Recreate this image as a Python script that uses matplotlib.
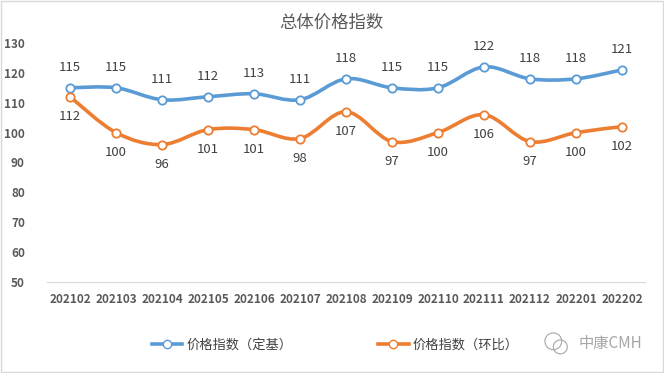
import numpy as np
import matplotlib.pyplot as plt
from matplotlib.path import Path
from matplotlib.patches import PathPatch, Rectangle
from matplotlib.lines import Line2D

plt.rcParams['font.family'] = ['Noto Sans CJK SC', 'DejaVu Sans']

months = ['202102', '202103', '202104', '202105', '202106', '202107', '202108',
          '202109', '202110', '202111', '202112', '202201', '202202']
fixed_base = [115, 115, 111, 112, 113, 111, 118, 115, 115, 122, 118, 118, 121]
month_on_month = [112, 100, 96, 101, 101, 98, 107, 97, 100, 106, 97, 100, 102]

blue = '#5B9BD5'
orange = '#ED7D31'


def smooth_path(xs, ys):
    # Excel-style smoothed line: cubic bezier through the points
    xs = np.asarray(xs, float)
    ys = np.asarray(ys, float)
    n = len(xs)
    verts = [(xs[0], ys[0])]
    codes = [Path.MOVETO]
    for i in range(n - 1):
        p0 = (xs[max(i - 1, 0)], ys[max(i - 1, 0)])
        p1 = (xs[i], ys[i])
        p2 = (xs[i + 1], ys[i + 1])
        p3 = (xs[min(i + 2, n - 1)], ys[min(i + 2, n - 1)])
        c1 = (p1[0] + (p2[0] - p0[0]) / 6, p1[1] + (p2[1] - p0[1]) / 6)
        c2 = (p2[0] - (p3[0] - p1[0]) / 6, p2[1] - (p3[1] - p1[1]) / 6)
        verts += [c1, c2, p2]
        codes += [Path.CURVE4] * 3
    return Path(verts, codes)


fig = plt.figure(figsize=(6.64, 3.73), dpi=100)
fig.patches.append(Rectangle((0.001, 0.002), 0.997, 0.995, transform=fig.transFigure,
                             fill=False, edgecolor='#D9D9D9', linewidth=1))
ax = fig.add_axes([0.0708, 0.244, 0.9006, 0.6408])

x = np.arange(len(months))
for vals, col, off in [(fixed_base, blue, 20), (month_on_month, orange, -20)]:
    ax.add_patch(PathPatch(smooth_path(x, vals), facecolor='none', edgecolor=col,
                           linewidth=2.6, capstyle='round', zorder=2))
    ax.plot(x, vals, linestyle='none', marker='o', markersize=6, markerfacecolor='white',
            markeredgecolor=col, markeredgewidth=1.3, zorder=3)
    for xi, v in zip(x, vals):
        ax.annotate(str(v), (xi, v), xytext=(0, off), textcoords='offset pixels',
                    ha='center', va='center', fontsize=9.5, color='#404040')

ax.set_xlim(-0.5, len(months) - 0.5)
ax.set_ylim(50, 130)
ax.set_yticks(range(50, 131, 10))
ax.set_xticks(x)
ax.set_xticklabels(months)
for s in ['top', 'right', 'left']:
    ax.spines[s].set_visible(False)
ax.spines['bottom'].set_color('#D9D9D9')
ax.tick_params(axis='both', length=0, colors='#595959', labelsize=8.5)
ax.tick_params(axis='y', pad=16)
ax.tick_params(axis='x', pad=8)
for lab in ax.get_xticklabels() + ax.get_yticklabels():
    lab.set_fontweight('bold')

fig.text(0.499, 0.94, '总体价格指数', ha='center', va='center', fontsize=12.5,
         color='#595959', fontweight='medium')

handles = [Line2D([], [], color=blue, linewidth=2.6, marker='o', markersize=6,
                  markerfacecolor='white', markeredgecolor=blue),
           Line2D([], [], color=orange, linewidth=2.6, marker='o', markersize=6,
                  markerfacecolor='white', markeredgecolor=orange)]
fig.legend(handles, ['价格指数（定基）', '价格指数（环比）'], loc='center',
           bbox_to_anchor=(0.505, 0.075), ncol=2, frameon=False, fontsize=9.5,
           handlelength=2.3, handletextpad=0.3, columnspacing=6.5, labelcolor='#404040')

# watermark
fig.text(0.968, 0.078, '中康CMH', ha='right', va='center', fontsize=11, color='#A6A6A6')
ax_icon = fig.add_axes([0.815, 0.04, 0.045, 0.075])
ax_icon.axis('off')
ax_icon.set_xlim(0, 1)
ax_icon.set_ylim(0, 1)
ax_icon.add_patch(plt.Circle((0.4, 0.6), 0.3, fill=False, ec='#A6A6A6', lw=0.8))
ax_icon.add_patch(plt.Circle((0.65, 0.4), 0.25, fill=False, ec='#A6A6A6', lw=0.8))
ax_icon.set_aspect('equal')

fig.savefig('out.png', dpi=100)
